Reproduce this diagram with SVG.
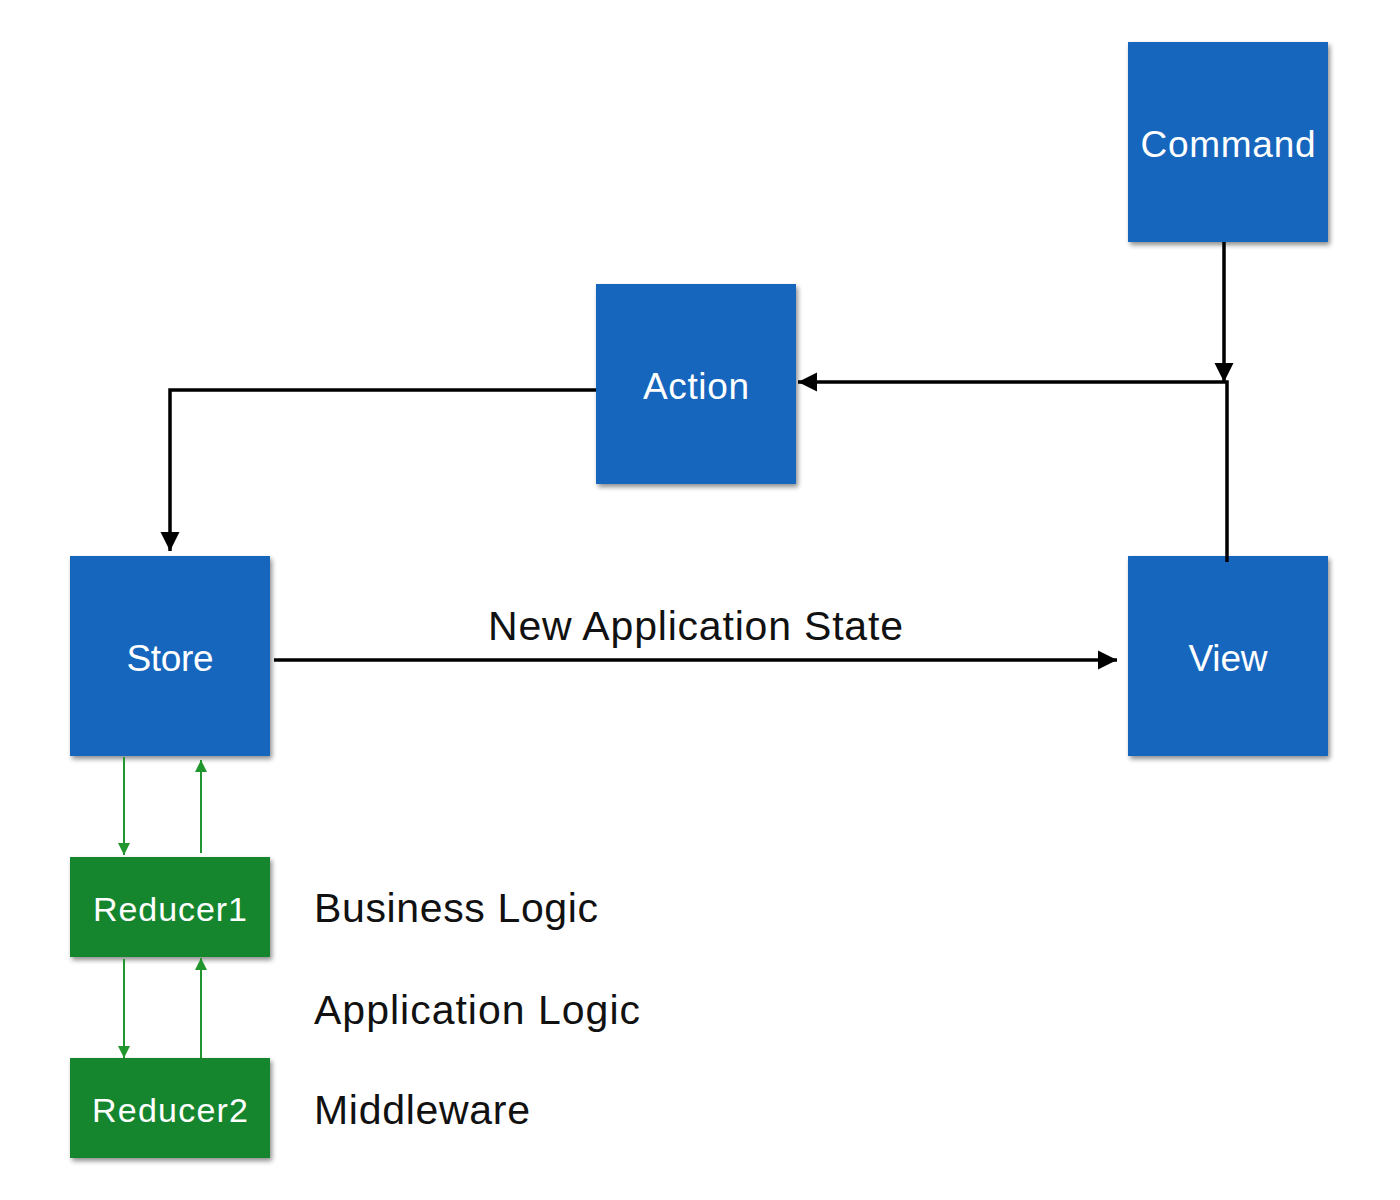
<svg xmlns="http://www.w3.org/2000/svg" width="1400" height="1200" viewBox="0 0 1400 1200">
<style>
.blue{fill:#1266BE;filter:url(#sh)}
.green{fill:#14862F;filter:url(#sh)}
.lbl{font-family:"Liberation Sans",Arial,sans-serif;fill:#fff;text-anchor:middle}
.big{font-size:37px}
.small{font-size:34px}
.note{font-family:"Liberation Sans",Arial,sans-serif;fill:#111;font-size:41px}
.k{stroke:#000;stroke-width:3.5;fill:none}
.g{stroke:#22962E;stroke-width:2;fill:none}
</style>
<defs>
<filter id="sh" x="-10%" y="-10%" width="125%" height="125%">
<feGaussianBlur in="SourceAlpha" stdDeviation="2.5"/>
<feOffset dx="2" dy="3" result="b"/>
<feComponentTransfer><feFuncA type="linear" slope="0.45"/></feComponentTransfer>
<feMerge><feMergeNode/><feMergeNode in="SourceGraphic"/></feMerge>
</filter>
<marker id="ak" viewBox="0 0 10 10" refX="10" refY="5" markerWidth="5.5" markerHeight="5.5" markerUnits="strokeWidth" orient="auto"><path d="M0,0L10,5L0,10z" fill="#000"/></marker>
<marker id="ag" viewBox="0 0 10 10" refX="10" refY="5" markerWidth="6" markerHeight="6" markerUnits="strokeWidth" orient="auto"><path d="M0,0L10,5L0,10z" fill="#22962E"/></marker>
</defs>
<g id="command"><rect class="blue" x="1128" y="42" width="200" height="200"/><text class="lbl big" x="1228" y="157" textLength="175">Command</text></g>
<g id="action"><rect class="blue" x="596" y="284" width="200" height="200"/><text class="lbl big" x="696" y="399" textLength="106">Action</text></g>
<g id="store"><rect class="blue" x="70" y="556" width="200" height="200"/><text class="lbl big" x="170" y="671" textLength="87">Store</text></g>
<g id="view"><rect class="blue" x="1128" y="556" width="200" height="200"/><text class="lbl big" x="1228" y="671" textLength="79">View</text></g>
<g id="reducer1"><rect class="green" x="70" y="857" width="200" height="100"/><text class="lbl small" x="170" y="921" textLength="154">Reducer1</text></g>
<g id="reducer2"><rect class="green" x="70" y="1058" width="200" height="100"/><text class="lbl small" x="170" y="1122" textLength="156">Reducer2</text></g>
<g id="connectors">
<path class="k" d="M1224,242V382" marker-end="url(#ak)"/>
<path class="k" d="M1227,562V382H798" marker-end="url(#ak)"/>
<path class="k" d="M596,390H170V551" marker-end="url(#ak)"/>
<path class="k" d="M274,660H1117" marker-end="url(#ak)"/>
<path class="g" d="M124,757V855" marker-end="url(#ag)"/>
<path class="g" d="M201,853V760" marker-end="url(#ag)"/>
<path class="g" d="M124,959V1058" marker-end="url(#ag)"/>
<path class="g" d="M201,1058V958" marker-end="url(#ag)"/>
<text class="note" x="488" y="640" textLength="415">New Application State</text>
</g>
<g id="notes">
<text class="note" x="314" y="922" textLength="284">Business Logic</text>
<text class="note" x="314" y="1024" textLength="326">Application Logic</text>
<text class="note" x="314" y="1124" textLength="216">Middleware</text>
</g>
</svg>
